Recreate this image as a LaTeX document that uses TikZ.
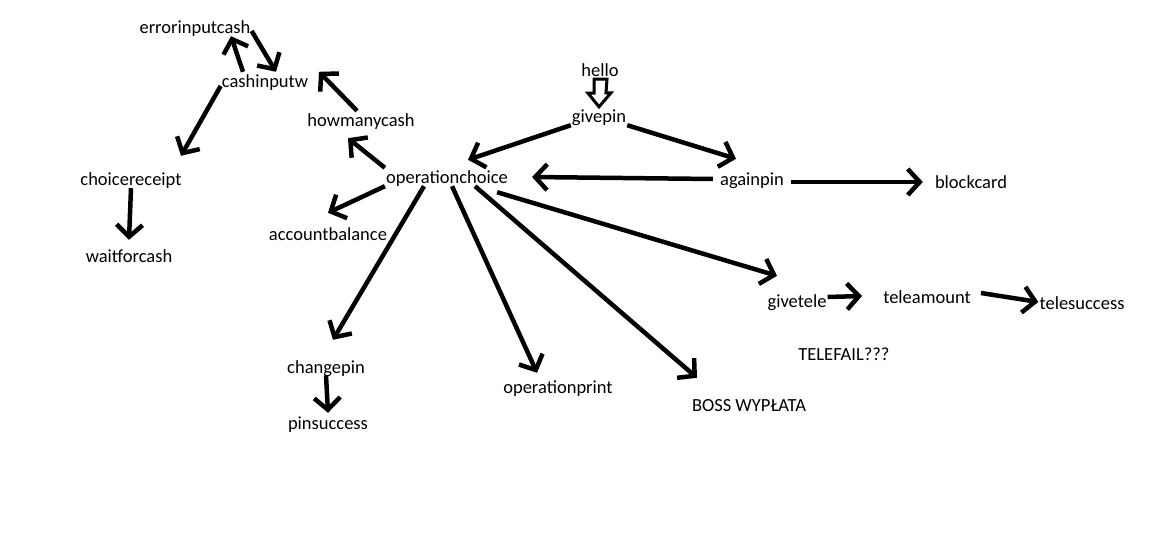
\documentclass[tikz,border=0pt]{standalone}
\usepackage{fontspec}
\setmainfont{Carlito}
\usepackage{tikz}
\usetikzlibrary{arrows.meta}

\begin{document}
\begin{tikzpicture}[x=1pt,y=1pt]

			\tikzstyle{state} = [inner sep=1pt,text height=15pt,text depth=1pt,font=\fontsize{18.5}{20}\selectfont]
			\tikzstyle{arr} = [line width=4.5pt,-{Straight Barb[length=12pt,width=26pt]}]

			\useasboundingbox (0,0) rectangle (1149,-556);

			% cash branch
			\node[state] (errorinputcash) at (195,-27) {errorinputcash};
			\node[state] (cashinputw) at (265,-81) {cashinputw};
			\node[state] (howmanycash) at (361,-120) {howmanycash};
			\node[state] (choicereceipt) at (131,-179) {choicereceipt};
			\node[state] (waitforcash) at (129,-256) {waitforcash};
			\node[state] (accountbalance) at (328,-234) {accountbalance};

			% pin
			\node[state] (hello) at (600,-70) {hello};
			\node[state] (givepin) at (599,-116) {givepin};
			\node[state] (againpin) at (752,-179) {againpin};
			\node[state] (blockcard) at (971,-182) {blockcard};
			\node[state] (operationchoice) at (447,-177) {operationchoice};

			% tele
			\node[state] (givetele) at (797,-301) {givetele};
			\node[state] (teleamount) at (927,-296) {teleamount};
			\node[state] (telesuccess) at (1082,-302) {telesuccess};
			\node[state] (telefail) at (844,-353) {TELEFAIL???};

			\node[state] (changepin) at (326,-366) {changepin};
			\node[state] (pinsuccess) at (328,-422) {pinsuccess};
			\node[state] (operationprint) at (558,-386) {operationprint};
			\node[state] (boss) at (749,-404) {BOSS WYPŁATA};

			\draw[line width=3pt,line join=miter] ([xshift=-6pt]hello.south) -- ++(0,-14) -- ++(-6,0) -- (givepin.north) -- ++(12,14) -- ++(-5,0) -- ([xshift=7pt]hello.south) -- cycle;

			\draw[arr] ([xshift=-22pt]cashinputw.north) -- ([xshift=36pt]errorinputcash.south);
			\draw[arr] ([yshift=-4pt]errorinputcash.east) -- ([xshift=11pt]cashinputw.north);
			\draw[arr] ([xshift=-4pt]howmanycash.north) -- ([xshift=54pt]cashinputw.north);
			\draw[arr] (operationchoice.north west) -- ([shift={(-13pt,-9pt)}]howmanycash.south);
			\draw[arr] (operationchoice.south west) -- ([yshift=12pt]accountbalance.north);
			\draw[arr] ([yshift=-5pt]cashinputw.west) -- ([shift={(50pt,14pt)}]choicereceipt.north);
			\draw[arr] (choicereceipt.south) -- ([yshift=7pt]waitforcash.north);

			\draw[arr] (givepin.south west) -- ([shift={(21pt,8pt)}]operationchoice.north);
			\draw[arr] (givepin.south east) -- ([shift={(-16pt,11pt)}]againpin.north);
			\draw[arr] ([xshift=-6pt]againpin.west) -- ([xshift=23pt]operationchoice.east);
			\draw[arr] ([shift={(6pt,-3pt)}]againpin.east) -- ([xshift=-11pt]blockcard.west);

			\draw[arr] ([shift={(-12pt,-6pt)}]operationchoice.south east) -- ([shift={(-20pt,16pt)}]givetele.north);
			\draw[arr] ([xshift=-23pt]operationchoice.south) -- ([shift={(7pt,17pt)}]changepin.north);
			\draw[arr] ([xshift=5pt]operationchoice.south) -- ([shift={(-21pt,4pt)}]operationprint.north);
			\draw[arr] ([xshift=28pt]operationchoice.south) -- ([shift={(-52pt,17pt)}]boss.north);
			\draw[arr] (changepin.south) -- (pinsuccess.north);

			\draw[arr] ([yshift=4pt]givetele.east) -- ([xshift=-20pt]teleamount.west);
			\draw[arr] ([shift={(9pt,3pt)}]teleamount.east) -- (telesuccess.west);
		\end{tikzpicture}
\end{document}
